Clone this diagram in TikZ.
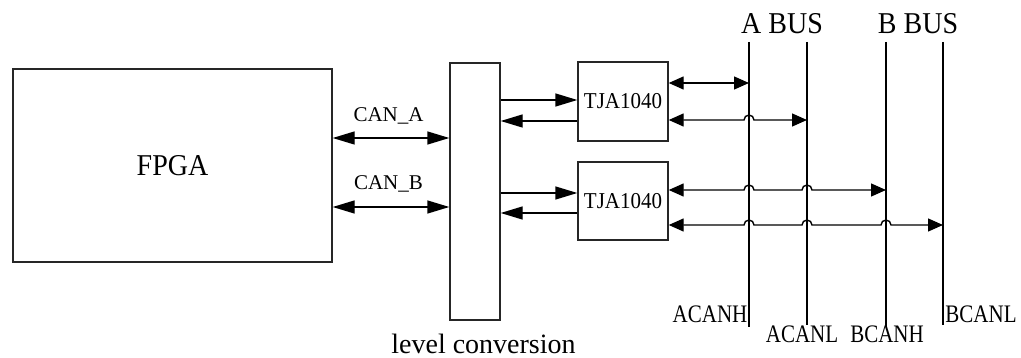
\documentclass[tikz,border=0pt]{standalone}
\usepackage{fontspec}
\setmainfont{Liberation Serif}
\usetikzlibrary{arrows.meta,calc}
\newcommand{\largetext}{\fontsize{28}{32}\selectfont}
\newcommand{\smalltext}{\fontsize{21}{24}\selectfont}
\newcommand{\tallcap}[1]{\scalebox{1}[1.2]{#1}}
\newcommand{\hop}[2]{-- ($(#1 |- 0,#2)+(-5,0)$) arc [start angle=180, end angle=0, radius=5pt]}
\tikzset{>={Triangle[length=22pt,width=13pt]}}
\tikzstyle{block} = [rectangle, draw=black!85, inner sep=0pt]
\tikzstyle{line} = [draw, ->]
\tikzstyle{bidir} = [draw, <->]
\tikzstyle{busarrow} = [draw, <->, >={Triangle[length=15pt,width=13pt]}]

\begin{document}
\begin{tikzpicture}[x=1pt, y=-1pt, line width=1.4pt, font=\smalltext]
		\useasboundingbox (0,0) rectangle (1021,358);
		\node [block, minimum width=319pt, minimum height=193pt, font=\largetext] (fpga) at (172.5,165.5) {\scalebox{1}[1.08]{FPGA}};
		\node [block, minimum width=50pt, minimum height=257pt] (lvl) at (475,191.5) {};
		\node [anchor=base, font=\largetext] (lvltext) at (483.5,353) {level conversion};
		\node [block, minimum width=90pt, minimum height=79pt] (tjaA) at (623,101.5) {\scalebox{1}[1.08]{TJA1040}};
		\node [block, minimum width=90pt, minimum height=78pt] (tjaB) at (623,201) {\scalebox{1}[1.08]{TJA1040}};
		
		% bus lines
		\foreach \name/\x/\bot in {acanh/749/327, acanl/807/325, bcanh/886/327, bcanl/943/325}{
			\coordinate (\name T) at (\x,42);
			\coordinate (\name B) at (\x,\bot);
			\path [draw] (\name T) -- (\name B);
		}
		\node [anchor=base, font=\largetext] (abus) at (782,33.3) {\scalebox{1}[1.08]{A BUS}};
		\node [anchor=base, font=\largetext] (bbus) at (918,33.3) {\scalebox{1}[1.08]{B BUS}};
		\node [anchor=base] (acanhlbl) at (710,323) {\tallcap{ACANH}};
		\node [anchor=base] (acanllbl) at (802,343) {\tallcap{ACANL}};
		\node [anchor=base] (bcanhlbl) at (887,343) {\tallcap{BCANH}};
		\node [anchor=base] (bcanllbl) at (981,323) {\tallcap{BCANL}};
		
		\node [anchor=base] (canalbl) at (388.5,121.7) {CAN\_A};
		\node [anchor=base] (canblbl) at (388.5,190) {CAN\_B};
		\path [bidir] (fpga.east |- 0,138) -- (lvl.west |- 0,138);
		\path [bidir] (fpga.east |- 0,207) -- (lvl.west |- 0,207);
		
		\path [line] (lvl.east |- 0,100) -- (tjaA.west |- 0,100);
		\path [line] (tjaA.west |- 0,121) -- (lvl.east |- 0,121);
		\path [line] (lvl.east |- 0,193) -- (tjaB.west |- 0,193);
		\path [line] (tjaB.west |- 0,213) -- (lvl.east |- 0,213);
		
		\path [busarrow] (tjaA.east |- 0,83) -- (acanhT |- 0,83);
		\path [busarrow] (tjaA.east |- 0,120) \hop{acanhT}{120} -- (acanlT |- 0,120);
		\path [busarrow] (tjaB.east |- 0,190) \hop{acanhT}{190} \hop{acanlT}{190} -- (bcanhT |- 0,190);
		\path [busarrow] (tjaB.east |- 0,225) \hop{acanhT}{225} \hop{acanlT}{225} \hop{bcanhT}{225} -- (bcanlT |- 0,225);
	\end{tikzpicture}
\end{document}
